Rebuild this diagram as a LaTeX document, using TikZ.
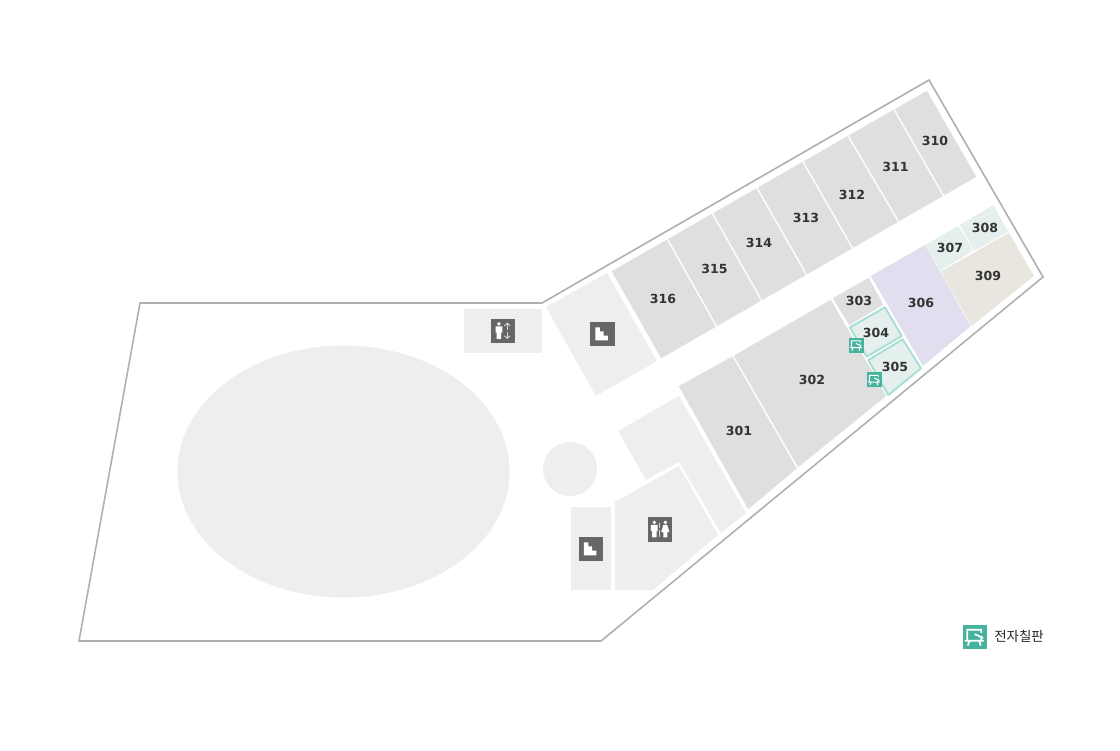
\documentclass[tikz,border=0pt]{standalone}
\usepackage{fontspec}
\setmainfont{DejaVu Sans}
\newfontfamily\cjkfont{Noto Sans CJK KR}
\definecolor{roomgray}{HTML}{DFDFDF}
\definecolor{lightgray}{HTML}{EEEEEE}
\definecolor{wallgray}{HTML}{B0B0B0}
\definecolor{icongray}{HTML}{666666}
\definecolor{arrowgray}{HTML}{D8D8D8}
\definecolor{roomviolet}{HTML}{E1DFEF}
\definecolor{roomsand}{HTML}{E8E6DE}
\definecolor{roommint}{HTML}{E5EFED}
\definecolor{boardline}{HTML}{A6DFD2}
\definecolor{boardteal}{HTML}{45B39D}
\tikzset{
	room/.style={fill=roomgray, draw=white, line width=0.6pt},
	service/.style={fill=lightgray},
	roomlabel/.style={font=\bfseries\fontsize{9.4}{9.4}\selectfont, text=black!80, inner sep=0pt},
	pics/stairsicon/.style={code={
		\fill[icongray] (0,0) rectangle (24.5,24.5);
		\fill[white] (5.3,5.9) -- (9.9,5.9) -- (9.9,9.9) -- (13.5,9.9) -- (13.5,14.1)
			-- (17.9,14.1) -- (17.9,18.9) -- (5.3,18.9) -- cycle;
	}},
	pics/manglyph/.style={code={
		\fill[white] (0,5.4) circle (1.9);
		\fill[white] (-3.4,7.8) -- (3.4,7.8) -- (3.4,14.2) -- (2.2,14.2) -- (2.2,20.4)
			-- (-2.2,20.4) -- (-2.2,14.2) -- (-3.4,14.2) -- cycle;
	}},
	pics/womanglyph/.style={code={
		\fill[white] (0,5.4) circle (1.9);
		\fill[white] (-1.9,7.8) -- (1.9,7.8) -- (4.2,15.2) -- (2,15.2) -- (2,20.4)
			-- (-2,20.4) -- (-2,15.2) -- (-4.2,15.2) -- cycle;
	}},
	pics/lifticon/.style={code={
		\fill[icongray] (0,0) rectangle (24.5,24.5);
		\pic at (8.4,0) {manglyph};
		\draw[arrowgray, line width=0.8pt, ->] (16.8,11) -- (16.8,4);
		\draw[arrowgray, line width=0.8pt, ->] (16.8,13.5) -- (16.8,20.5);
	}},
	pics/wcicon/.style={code={
		\fill[icongray] (0,0) rectangle (24.5,24.5);
		\pic at (6.8,0) {manglyph};
		\pic at (17.8,0) {womanglyph};
		\draw[arrowgray, line width=1pt] (12.3,5.5) -- (12.3,10.5) (12.3,12.5) -- (12.3,19.5);
	}},
	pics/boardicon/.style={code={
		\fill[boardteal] (0,0) rectangle (24,24);
		\draw[white, line width=#1, line cap=round]
			(4.8,16.3) -- (4.8,5.3) -- (18.7,5.3) -- (18.7,7.7)
			(12.5,9.8) -- (20.2,13.2)
			(18.7,12) -- (18.7,16.3)
			(2.9,16.3) -- (20.9,16.3)
			(7,16.3) -- (5.5,20.6)
			(16.8,16.3) -- (18,20.6);
	}},
}

\begin{document}
\begin{tikzpicture}[x=0.75pt, y=-0.75pt]
	\useasboundingbox (0,0) rectangle (1120,750);
	\fill[white] (0,0) rectangle (1120,750);

	% building
	\draw[wallgray, line width=1.2pt, fill=white, line join=miter]
		(140,303) -- (542,303) -- (929,80) -- (1043,277) -- (601,641) -- (79,641) -- cycle;

	% hall
	\fill[service] (343.5,471.5) ellipse (166 and 126);
	\fill[service] (570,469) circle (27);
	\fill[service] (464,309) rectangle (541.5,353);
	\fill[service] (546,307) -- (607,273) -- (657,361) -- (596,396) -- cycle;
	\fill[service] (618,431) -- (679,396) -- (746,513) -- (721,533) -- (679,462) -- (646,480) -- cycle;
	\fill[service] (615,502) -- (679,466) -- (718,535) -- (653,590) -- (615,590) -- cycle;
	\fill[service] (571,507) rectangle (611,590);

	% upper wing
	\fill[room] (611,271) -- (667,239) -- (716.5,327) -- (661,359) -- cycle;
	\fill[room] (667.5,238.7) -- (712,213.1) -- (761.5,301.1) -- (717,326.8) -- cycle;
	\fill[room] (712.5,212.9) -- (756.5,187.7) -- (806.5,275.2) -- (762,300.8) -- cycle;
	\fill[room] (757,187.4) -- (802.5,161.3) -- (852.5,248.7) -- (807,274.9) -- cycle;
	\fill[room] (803,161) -- (847.5,135.5) -- (898.5,222.2) -- (853,248.4) -- cycle;
	\fill[room] (848,135.2) -- (893.5,109.2) -- (943.5,196.3) -- (899,221.9) -- cycle;
	\fill[room] (894,109) -- (927,90) -- (977,177) -- (944,196) -- cycle;

	% lower wing
	\fill[room] (678,386) -- (732.5,355.7) -- (797.5,468.5) -- (748,510) -- cycle;
	\fill[room] (733,355.5) -- (831,299) -- (887,396) -- (798,468) -- cycle;
	\fill[room] (832,298) -- (869,277) -- (884,305) -- (849,326) -- cycle;
	\fill[roomviolet] (870.7,276) -- (925,245) -- (970.7,326) -- (923,366) -- cycle;
	\fill[roommint] (925.5,244.7) -- (958.3,226) -- (973.3,250.7) -- (940,270.7) -- cycle;
	\fill[roommint] (960,225) -- (993.3,205) -- (1008.3,231.7) -- (974.3,250.7) -- cycle;
	\fill[roomsand] (940.7,271.7) -- (1009,232.7) -- (1034,276) -- (971.7,326) -- cycle;
	\draw[boardline, fill=roommint, line width=1.4pt, line join=round]
		(850,327.3) -- (885,307.3) -- (901.7,336) -- (866.7,356.7) -- cycle;
	\draw[boardline, fill=roommint, line width=1.4pt, line join=round]
		(868.3,360) -- (902.7,339.3) -- (921,368.3) -- (888.3,395) -- cycle;

	% icons
	\pic at (490.5,318.5) {lifticon};
	\pic at (590,321.5) {stairsicon};
	\pic at (578.5,536.5) {stairsicon};
	\pic at (647.5,517) {wcicon};
	\pic[scale=0.625] at (848.5,337.5) {boardicon=0.8pt};
	\pic[scale=0.625] at (866.5,372) {boardicon=0.8pt};
	\pic at (962.5,624.5) {boardicon=1.3pt};

	% labels
	\node[roomlabel] (r301) at (739,431) {301};
	\node[roomlabel] (r302) at (812,380) {302};
	\node[roomlabel] (r303) at (859,301) {303};
	\node[roomlabel] (r304) at (876,333) {304};
	\node[roomlabel] (r305) at (895,367) {305};
	\node[roomlabel] (r306) at (921,303) {306};
	\node[roomlabel] (r307) at (950,248) {307};
	\node[roomlabel] (r308) at (985,228) {308};
	\node[roomlabel] (r309) at (988,276) {309};
	\node[roomlabel] (r310) at (935,141) {310};
	\node[roomlabel] (r311) at (895.5,167) {311};
	\node[roomlabel] (r312) at (852,195) {312};
	\node[roomlabel] (r313) at (806,218) {313};
	\node[roomlabel] (r314) at (759,243) {314};
	\node[roomlabel] (r315) at (714.5,269) {315};
	\node[roomlabel] (r316) at (663,299) {316};
	\node[anchor=west, inner sep=0pt, text=black!85, font=\cjkfont\fontsize{10.1}{11}\selectfont] (legend) at (994,636) {전자칠판};
\end{tikzpicture}
\end{document}
